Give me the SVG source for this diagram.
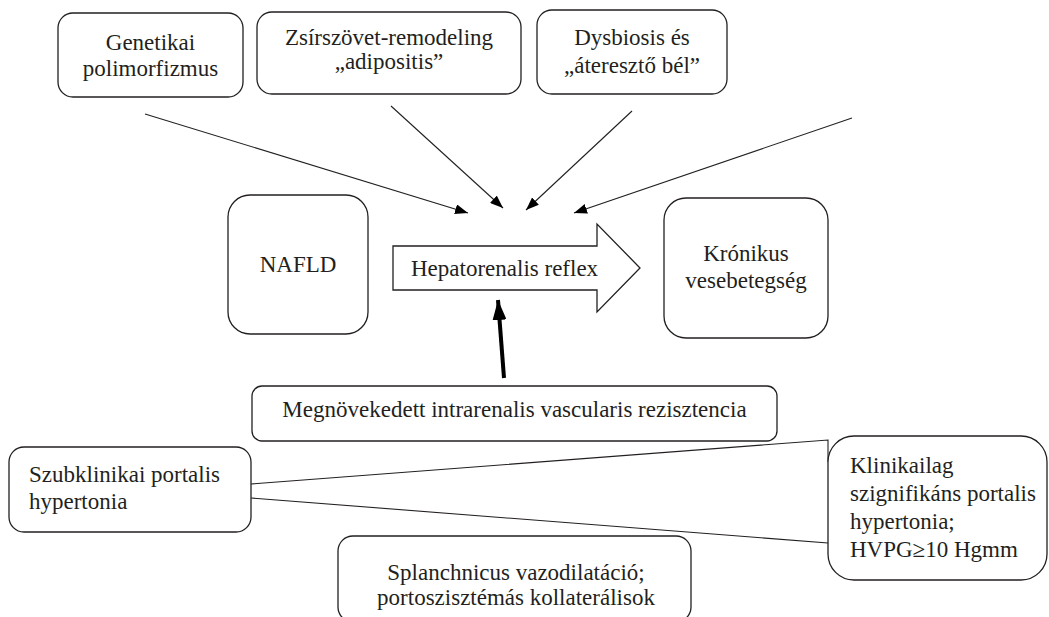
<svg xmlns="http://www.w3.org/2000/svg" width="1049" height="617" viewBox="0 0 1049 617">
<style>
  .box { fill: #ffffff; stroke: #231f20; stroke-width: 1.3; }
  .t { font-family: "Liberation Serif", "Times New Roman", serif; font-size: 23px; fill: #231f20; }
  .c { text-anchor: middle; }
  .ln { fill: none; stroke: #231f20; stroke-width: 1.1; }
  .thick { fill: none; stroke: #000000; stroke-width: 4; }
</style>
<defs>
  <marker id="ah" markerUnits="userSpaceOnUse" markerWidth="13" markerHeight="10" refX="13" refY="5" orient="auto">
    <path d="M0,0 L13,5 L0,10 z" fill="#000000"/>
  </marker>
  <marker id="ahb" markerUnits="userSpaceOnUse" markerWidth="20" markerHeight="14" refX="20" refY="7" orient="auto">
    <path d="M0,0 L20,7 L0,14 z" fill="#000000"/>
  </marker>
</defs>
<rect width="1049" height="617" fill="#ffffff"/>

<g id="connectors">
  <line class="ln" x1="145" y1="114" x2="468" y2="213" marker-end="url(#ah)"/>
  <line class="ln" x1="391" y1="106" x2="503" y2="208" marker-end="url(#ah)"/>
  <line class="ln" x1="632" y1="111" x2="526" y2="210" marker-end="url(#ah)"/>
  <line class="ln" x1="852" y1="118" x2="574" y2="213" marker-end="url(#ah)"/>
  <line class="thick" x1="504" y1="378" x2="498" y2="300" marker-end="url(#ahb)"/>
  <polyline class="ln" points="251,484 828,440 828,462"/>
  <line class="ln" x1="251" y1="498" x2="828" y2="543"/>
</g>

<g id="genetikai">
  <rect class="box" x="58" y="13" width="185" height="84" rx="15"/>
  <text class="t c" x="150.5" y="50">Genetikai</text>
  <text class="t c" x="150.5" y="76">polimorfizmus</text>
</g>
<g id="zsirszovet">
  <rect class="box" x="257" y="12" width="264" height="82" rx="15"/>
  <text class="t c" x="389" y="45">Zsírszövet-remodeling</text>
  <text class="t c" x="389" y="69">„adipositis”</text>
</g>
<g id="dysbiosis">
  <rect class="box" x="537" y="10" width="190" height="84" rx="15"/>
  <text class="t c" x="632" y="45">Dysbiosis és</text>
  <text class="t c" x="632" y="73">„áteresztő bél”</text>
</g>
<g id="nafld">
  <rect class="box" x="228" y="195" width="140" height="139" rx="22"/>
  <text class="t c" x="298" y="272">NAFLD</text>
</g>
<g id="hepatorenalis">
  <polygon class="box" points="393,246 597,246 597,224 640,268 597,312 597,290 393,290"/>
  <text class="t" x="411" y="276">Hepatorenalis reflex</text>
</g>
<g id="kronikus">
  <rect class="box" x="664" y="198" width="164" height="140" rx="22"/>
  <text class="t c" x="746" y="261">Krónikus</text>
  <text class="t c" x="746" y="288">vesebetegség</text>
</g>
<g id="megnovekedett">
  <rect class="box" x="252" y="386" width="525" height="55" rx="10"/>
  <text class="t c" x="514.5" y="417">Megnövekedett intrarenalis vascularis rezisztencia</text>
</g>
<g id="szubklinikai">
  <rect class="box" x="9" y="447" width="242" height="85" rx="15"/>
  <text class="t" x="29" y="482">Szubklinikai portalis</text>
  <text class="t" x="29" y="509">hypertonia</text>
</g>
<g id="klinikailag">
  <rect class="box" x="828" y="436" width="219" height="144" rx="26"/>
  <text class="t" x="850" y="473">Klinikailag</text>
  <text class="t" x="850" y="501">szignifikáns portalis</text>
  <text class="t" x="850" y="529">hypertonia;</text>
  <text class="t" x="850" y="557">HVPG≥10 Hgmm</text>
</g>
<g id="splanchnicus">
  <rect class="box" x="338" y="536" width="353" height="86" rx="15"/>
  <text class="t c" x="516" y="580">Splanchnicus vazodilatáció;</text>
  <text class="t c" x="516" y="605">portoszisztémás kollaterálisok</text>
</g>
</svg>
